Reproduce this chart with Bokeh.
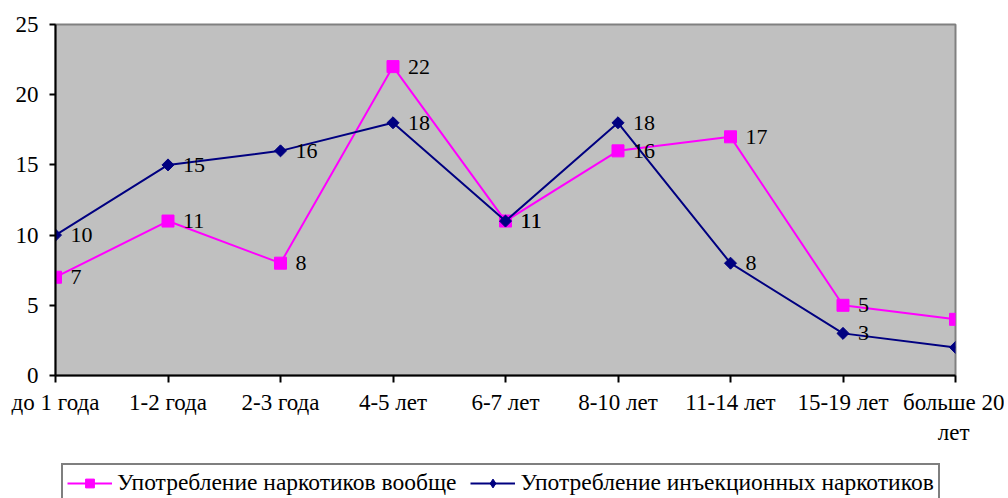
import math
from bokeh.plotting import figure
from bokeh.layouts import column
from bokeh.models import (Range1d, FixedTicker, Legend, LegendItem, ColumnDataSource)
from bokeh.core.properties import value
from bokeh.embed import file_html
from bokeh.resources import INLINE

categories = ["до 1 года", "1-2 года", "2-3 года", "4-5 лет", "6-7 лет",
              "8-10 лет", "11-14 лет", "15-19 лет", "больше 20\nлет"]
drugs_all = [7, 11, 8, 22, 11, 16, 17, 5, 4]
drugs_inj = [10, 15, 16, 18, 11, 18, 8, 3, 2]
name_all = "Употребление наркотиков вообще"
name_inj = "Употребление инъекционных наркотиков"
y_ticks = [0, 5, 10, 15, 20, 25]

FONT = "Liberation Serif"
FS = "23px"
FS_LEG = "23.5px"
FS_LBL = "22px"
MAGENTA = "#FF00FF"
NAVY = "#000080"
DIAMOND_ANGLE = math.pi / 4
xs = list(range(len(categories)))

p = figure(width=1004, height=456, output_backend="svg", toolbar_location=None,
           x_range=Range1d(0, len(categories) - 1), y_range=Range1d(0, 25),
           min_border_left=55, min_border_right=49, min_border_top=24,
           min_border_bottom=81)
p.background_fill_color = "#C0C0C0"
p.border_fill_color = "white"
p.outline_line_color = "#808080"
p.outline_line_width = 2
p.xgrid.visible = False
p.ygrid.visible = False

for ax in (p.xaxis[0], p.yaxis[0]):
    ax.axis_line_color = "black"
    ax.axis_line_width = 2
    ax.major_tick_line_color = "black"
    ax.major_tick_line_width = 2
    ax.major_tick_in = 0
    ax.minor_tick_line_color = None
    ax.major_label_text_font = FONT
    ax.major_label_text_font_size = FS
    ax.major_label_text_color = "black"

p.yaxis[0].ticker = FixedTicker(ticks=y_ticks)
p.yaxis[0].major_tick_out = 6
p.yaxis[0].major_label_standoff = 11
p.xaxis[0].ticker = FixedTicker(ticks=xs)
p.xaxis[0].major_label_overrides = {i: c for i, c in enumerate(categories)}
p.xaxis[0].major_tick_out = 7
p.xaxis[0].major_label_standoff = 7

src_all = ColumnDataSource(dict(x=xs, y=drugs_all, t=[str(v) for v in drugs_all]))
src_inj = ColumnDataSource(dict(x=xs, y=drugs_inj, t=[str(v) for v in drugs_inj]))

p.line("x", "y", source=src_all, line_color=MAGENTA, line_width=2)
p.scatter("x", "y", source=src_all, marker="square", size=12,
          fill_color=MAGENTA, line_color=MAGENTA)
p.line("x", "y", source=src_inj, line_color=NAVY, line_width=2)
p.scatter("x", "y", source=src_inj, marker="square", size=8.5, angle=DIAMOND_ANGLE,
          fill_color=NAVY, line_color=NAVY)

for src in (src_all, src_inj):
    p.text("x", "y", text="t", source=src, x_offset=15, text_baseline="middle",
           text_align="left", text_font=value(FONT), text_font_size=FS_LBL,
           text_color="black")

# legend strip below the chart (its frame is aligned with the chart's frame)
p2 = figure(width=1004, height=42, output_backend="svg", toolbar_location=None,
            x_range=Range1d(0, 1), y_range=Range1d(0, 1),
            x_axis_location=None, y_axis_location=None,
            min_border_left=0, min_border_right=0, min_border_top=0,
            min_border_bottom=0)
p2.grid.visible = False
p2.outline_line_color = None
p2.background_fill_color = "white"
offscreen = ColumnDataSource(dict(x=[5, 6], y=[5, 6]))
g1 = p2.line("x", "y", source=offscreen, line_color=MAGENTA, line_width=2)
g2 = p2.scatter("x", "y", source=offscreen, marker="square", size=12,
                fill_color=MAGENTA, line_color=MAGENTA)
g3 = p2.line("x", "y", source=offscreen, line_color=NAVY, line_width=2)
g4 = p2.scatter("x", "y", source=offscreen, marker="diamond", size=14,
                fill_color=NAVY, line_color=NAVY)

legend = Legend(items=[LegendItem(label=name_all, renderers=[g1, g2]),
                       LegendItem(label=name_inj, renderers=[g3, g4])],
                orientation="horizontal", location=(6, -4))
legend.label_text_font = FONT
legend.label_text_font_size = FS_LEG
legend.label_text_color = "black"
legend.border_line_color = "black"
legend.border_line_width = 2
legend.background_fill_color = "white"
legend.background_fill_alpha = 1
legend.glyph_width = 45
legend.glyph_height = 22
legend.label_standoff = 5
legend.label_height = 22
legend.spacing = 14
legend.padding = 4
legend.margin = 0
p2.add_layout(legend, "center")

layout = column(p, p2, spacing=0)
open("out.html", "w").write(file_html(layout, INLINE))
